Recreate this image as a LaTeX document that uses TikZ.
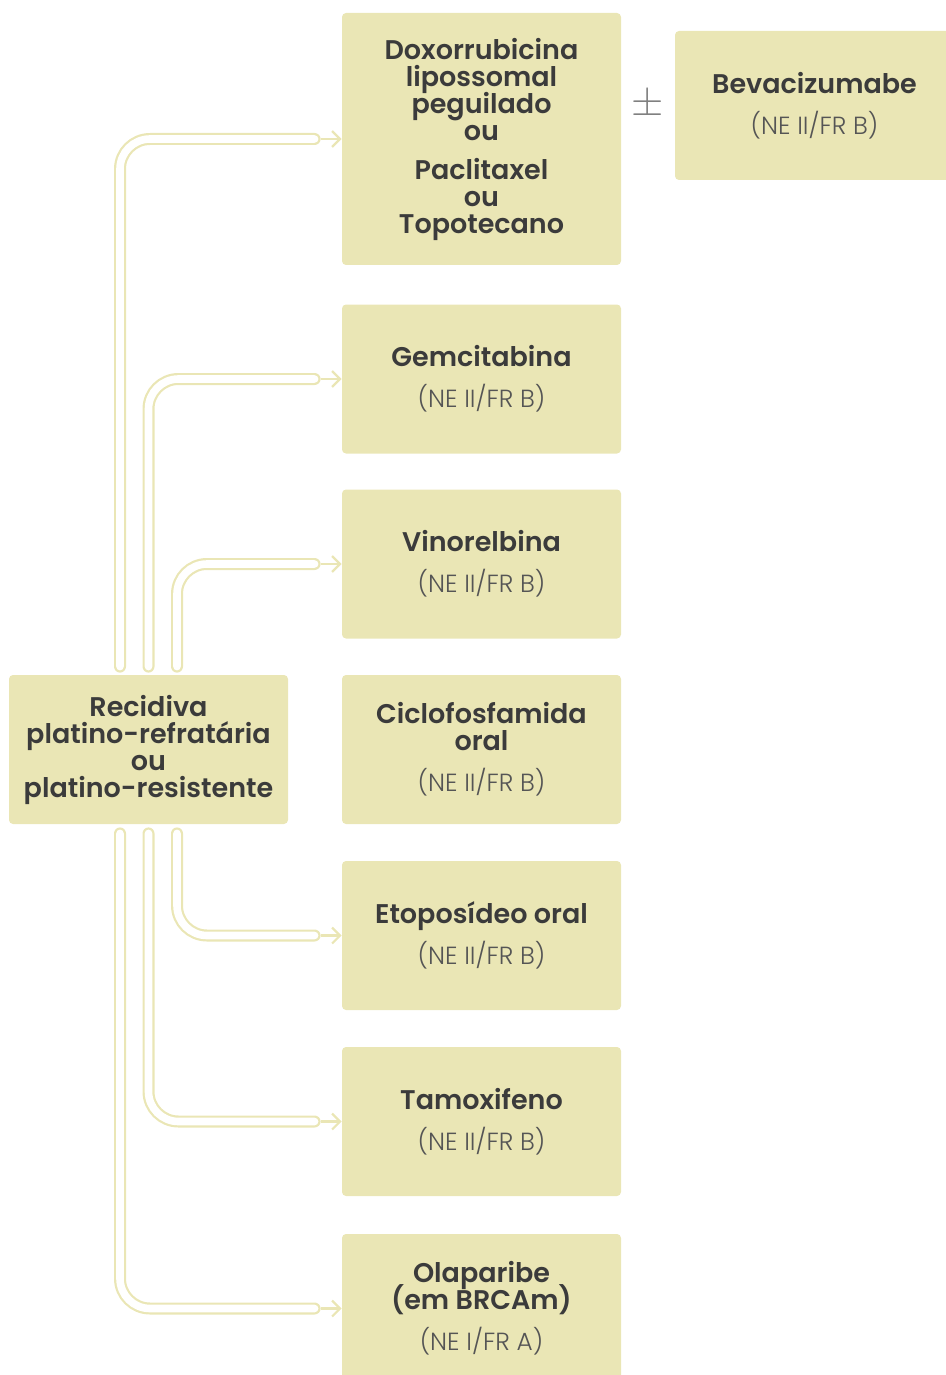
\documentclass[tikz,border=0pt]{standalone}
\usepackage{fontspec}
\setmainfont{Poppins}[BoldFont={Poppins SemiBold}]
\newfontfamily\lightfont{Poppins Light}
\usetikzlibrary{arrows.meta, positioning}

\definecolor{boxcol}{HTML}{EAE6B5}
\definecolor{txtcol}{HTML}{3B3B3B}
\definecolor{subcol}{HTML}{555555}

\newcommand{\nivel}[1]{{\mdseries\lightfont\fontsize{12.4}{14}\selectfont\color{subcol}#1}}
\newcommand{\apertado}{\lineskiplimit=-20pt\relax}

\begin{document}
\begin{tikzpicture}[
            x=0.5pt, y=-0.5pt,
            every node/.style={font={\fontsize{13.5}{13.5}\selectfont\bfseries\apertado}, text=txtcol},
            caixa/.style={fill=boxcol, rounded corners=2pt, minimum width=139.5pt,
                minimum height=74.5pt, align=center, inner sep=0pt},
            tubo/.style={draw=boxcol, line width=1.1pt, double=white, double distance=3.8pt,
                line cap=round, rounded corners=15pt},
            seta/.style={draw=boxcol, line width=1.1pt, -{Straight Barb[length=4pt,width=8pt]}}
        ]
        \useasboundingbox (0,0) rectangle (946,1375);

        \node[caixa, minimum height=126pt] (doxo) at (481.5,139) {
            Doxorrubicina\\lipossomal\\peguilado\\ou\\[6pt]Paclitaxel\\ou\\Topotecano};
        \node[caixa] (beva) at (814.5,105.5) {Bevacizumabe\\[7pt]\nivel{(NE II/FR B)}};
        \node (mais) at (648,105) {\nivel{\fontsize{20}{20}\selectfont\color{gray}$\pm$}};

        \node[caixa] (gem) at (481.5,379) {Gemcitabina\\[7pt]\nivel{(NE II/FR B)}};
        \node[caixa] (vino) at (481.5,564) {Vinorelbina\\[7pt]\nivel{(NE II/FR B)}};
        \node[caixa] (ciclo) at (481.5,749.5) {Ciclofosfamida\\oral\\[7pt]\nivel{(NE II/FR B)}};
        \node[caixa] (etop) at (481.5,935.5) {Etoposídeo oral\\[7pt]\nivel{(NE II/FR B)}};
        \node[caixa] (tamox) at (481.5,1121.5) {Tamoxifeno\\[7pt]\nivel{(NE II/FR B)}};
        \node[caixa] (olap) at (481.5,1308.5) {Olaparibe\\(em BRCAm)\\[7pt]\nivel{(NE I/FR A)}};

        \node[caixa] (rec) at (148.5,749.5) {
            Recidiva\\platino-refratária\\ou\\platino-resistente};

        % ramos para cima
        \draw[tubo] ([xshift=-14.25pt,yshift=4pt]rec.north) |- ([xshift=-13.5pt]doxo.west);
        \draw[seta] ([xshift=-10.5pt]doxo.west) -- (doxo.west);
        \draw[tubo] ([yshift=4pt]rec.north) |- ([xshift=-13.5pt]gem.west);
        \draw[seta] ([xshift=-10.5pt]gem.west) -- (gem.west);
        \draw[tubo] ([xshift=14.25pt,yshift=4pt]rec.north) |- ([xshift=-13.5pt]vino.west);
        \draw[seta] ([xshift=-10.5pt]vino.west) -- (vino.west);

        % ramos para baixo
        \draw[tubo] ([xshift=14.25pt,yshift=-4.5pt]rec.south) |- ([xshift=-13.5pt]etop.west);
        \draw[seta] ([xshift=-10.5pt]etop.west) -- (etop.west);
        \draw[tubo] ([yshift=-4.5pt]rec.south) |- ([xshift=-13.5pt]tamox.west);
        \draw[seta] ([xshift=-10.5pt]tamox.west) -- (tamox.west);
        \draw[tubo] ([xshift=-14.25pt,yshift=-4.5pt]rec.south) |- ([xshift=-13.5pt]olap.west);
        \draw[seta] ([xshift=-10.5pt]olap.west) -- (olap.west);

    \end{tikzpicture}
\end{document}
